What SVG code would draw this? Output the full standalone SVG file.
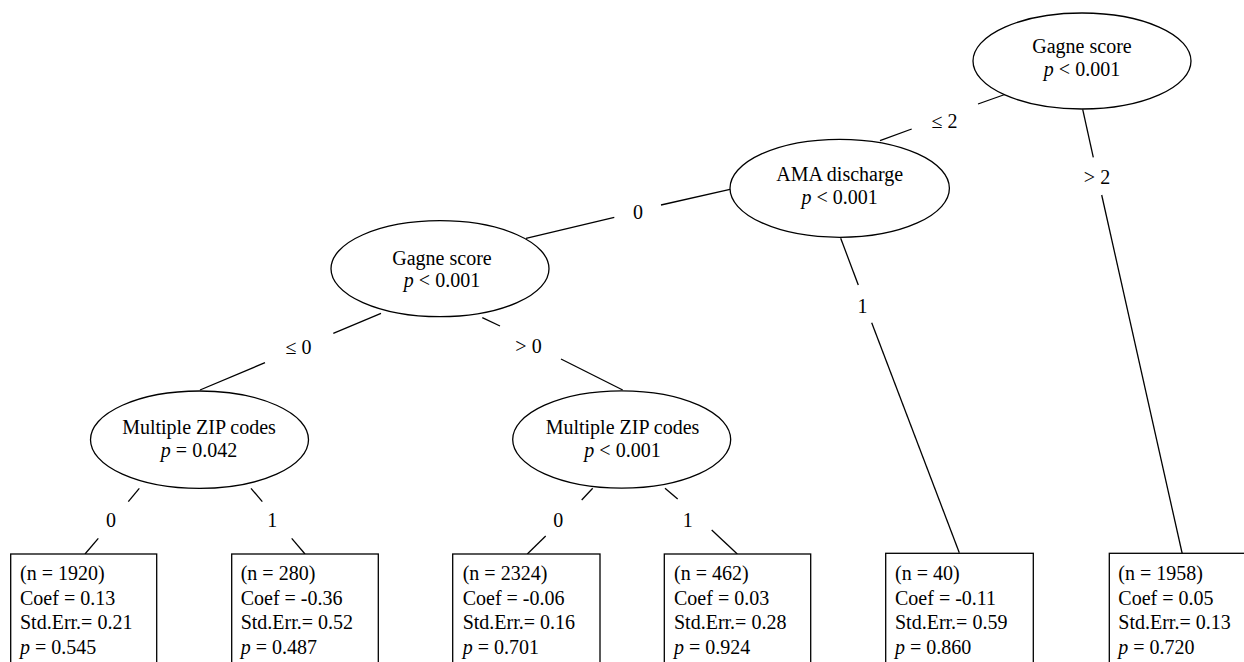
<svg xmlns="http://www.w3.org/2000/svg" width="1244" height="662" viewBox="0 0 1244 662">
<style>
text{font-size:20px;fill:#000}
.c{text-anchor:middle}
.i{font-style:italic}
.n{fill:#fff;stroke:#000;stroke-width:1.3}
line{stroke:#000;stroke-width:1.3}
</style>
<rect width="1244" height="662" fill="#fff"/>
<g font-family="'Liberation Serif', 'Times New Roman', 'DejaVu Serif', serif">
<g id="connectors">
<line x1="880" y1="140.7" x2="911.7" y2="129"/>
<line x1="978" y1="104" x2="1009" y2="93"/>
<text class="c" x="944.5" y="128">≤ 2</text>
<line x1="1082.7" y1="109.3" x2="1093.3" y2="157.3"/>
<line x1="1101.7" y1="195" x2="1182.3" y2="554"/>
<text class="c" x="1097" y="183.5">&gt; 2</text>
<line x1="526" y1="238.3" x2="614.3" y2="217.3"/>
<line x1="661" y1="205" x2="730" y2="189.3"/>
<text class="c" x="638" y="219">0</text>
<line x1="840.7" y1="238.3" x2="858.3" y2="285"/>
<line x1="871.7" y1="322.7" x2="959.3" y2="552.7"/>
<text class="c" x="862.5" y="312.7">1</text>
<line x1="200" y1="390" x2="265" y2="362.7"/>
<line x1="333.3" y1="333.3" x2="381" y2="313.3"/>
<text class="c" x="298.5" y="354">≤ 0</text>
<line x1="482.3" y1="317.7" x2="500" y2="326"/>
<line x1="561" y1="359" x2="622.7" y2="390"/>
<text class="c" x="528.5" y="353">&gt; 0</text>
<line x1="139.3" y1="488.3" x2="128.3" y2="501.7"/>
<line x1="98.3" y1="538.3" x2="85" y2="554"/>
<text class="c" x="111" y="527">0</text>
<line x1="251" y1="488.3" x2="262.3" y2="501.7"/>
<line x1="291.7" y1="538.3" x2="305" y2="554"/>
<text class="c" x="272.3" y="527">1</text>
<line x1="592.7" y1="488.3" x2="581.7" y2="500"/>
<line x1="545.7" y1="536" x2="527.3" y2="554"/>
<text class="c" x="558.3" y="527">0</text>
<line x1="665" y1="488.3" x2="677.7" y2="499"/>
<line x1="711.7" y1="530" x2="737.3" y2="554"/>
<text class="c" x="687.7" y="527">1</text>
</g>
<g id="node1">
<ellipse class="n" cx="1082" cy="61" rx="109" ry="48"/>
<text class="c" x="1082" y="53">Gagne score</text>
<text class="c" x="1082" y="76"><tspan class="i">p</tspan> &lt; 0.001</text>
</g>
<g id="node2">
<ellipse class="n" cx="839.7" cy="188.3" rx="109.7" ry="49"/>
<text class="c" x="839.7" y="181">AMA discharge</text>
<text class="c" x="839.7" y="203.5"><tspan class="i">p</tspan> &lt; 0.001</text>
</g>
<g id="node3">
<ellipse class="n" cx="440" cy="268.7" rx="109" ry="48"/>
<text class="c" x="442" y="265">Gagne score</text>
<text class="c" x="442" y="287.3"><tspan class="i">p</tspan> &lt; 0.001</text>
</g>
<g id="node4">
<ellipse class="n" cx="199.5" cy="439.7" rx="109" ry="48.7"/>
<text class="c" x="199" y="434.3">Multiple ZIP codes</text>
<text class="c" x="199" y="456.7"><tspan class="i">p</tspan> = 0.042</text>
</g>
<g id="node5">
<ellipse class="n" cx="621.7" cy="439.5" rx="109" ry="48.7"/>
<text class="c" x="622.5" y="434.3">Multiple ZIP codes</text>
<text class="c" x="622.5" y="457.3"><tspan class="i">p</tspan> &lt; 0.001</text>
</g>
<g id="leaf1">
<rect class="n" x="10.7" y="554" width="146" height="125"/>
<text x="20" y="580">(n = 1920)</text>
<text x="20" y="604.5">Coef = 0.13</text>
<text x="20" y="629">Std.Err.= 0.21</text>
<text x="20" y="653.5"><tspan class="i">p</tspan> = 0.545</text>
</g>
<g id="leaf2">
<rect class="n" x="231.7" y="554" width="146.6" height="125"/>
<text x="240.7" y="580">(n = 280)</text>
<text x="240.7" y="604.5">Coef = -0.36</text>
<text x="240.7" y="629">Std.Err.= 0.52</text>
<text x="240.7" y="653.5"><tspan class="i">p</tspan> = 0.487</text>
</g>
<g id="leaf3">
<rect class="n" x="452.7" y="554" width="147.3" height="125"/>
<text x="462.7" y="580">(n = 2324)</text>
<text x="462.7" y="604.5">Coef = -0.06</text>
<text x="462.7" y="629">Std.Err.= 0.16</text>
<text x="462.7" y="653.5"><tspan class="i">p</tspan> = 0.701</text>
</g>
<g id="leaf4">
<rect class="n" x="664.3" y="554" width="146.4" height="125"/>
<text x="674" y="580">(n = 462)</text>
<text x="674" y="604.5">Coef = 0.03</text>
<text x="674" y="629">Std.Err.= 0.28</text>
<text x="674" y="653.5"><tspan class="i">p</tspan> = 0.924</text>
</g>
<g id="leaf5">
<rect class="n" x="885.7" y="553.3" width="147.6" height="125"/>
<text x="895" y="580">(n = 40)</text>
<text x="895" y="604.5">Coef = -0.11</text>
<text x="895" y="629">Std.Err.= 0.59</text>
<text x="895" y="653.5"><tspan class="i">p</tspan> = 0.860</text>
</g>
<g id="leaf6">
<rect class="n" x="1109.3" y="553.3" width="147" height="125"/>
<text x="1118.3" y="580">(n = 1958)</text>
<text x="1118.3" y="604.5">Coef = 0.05</text>
<text x="1118.3" y="629">Std.Err.= 0.13</text>
<text x="1118.3" y="653.5"><tspan class="i">p</tspan> = 0.720</text>
</g>
</g>
</svg>
